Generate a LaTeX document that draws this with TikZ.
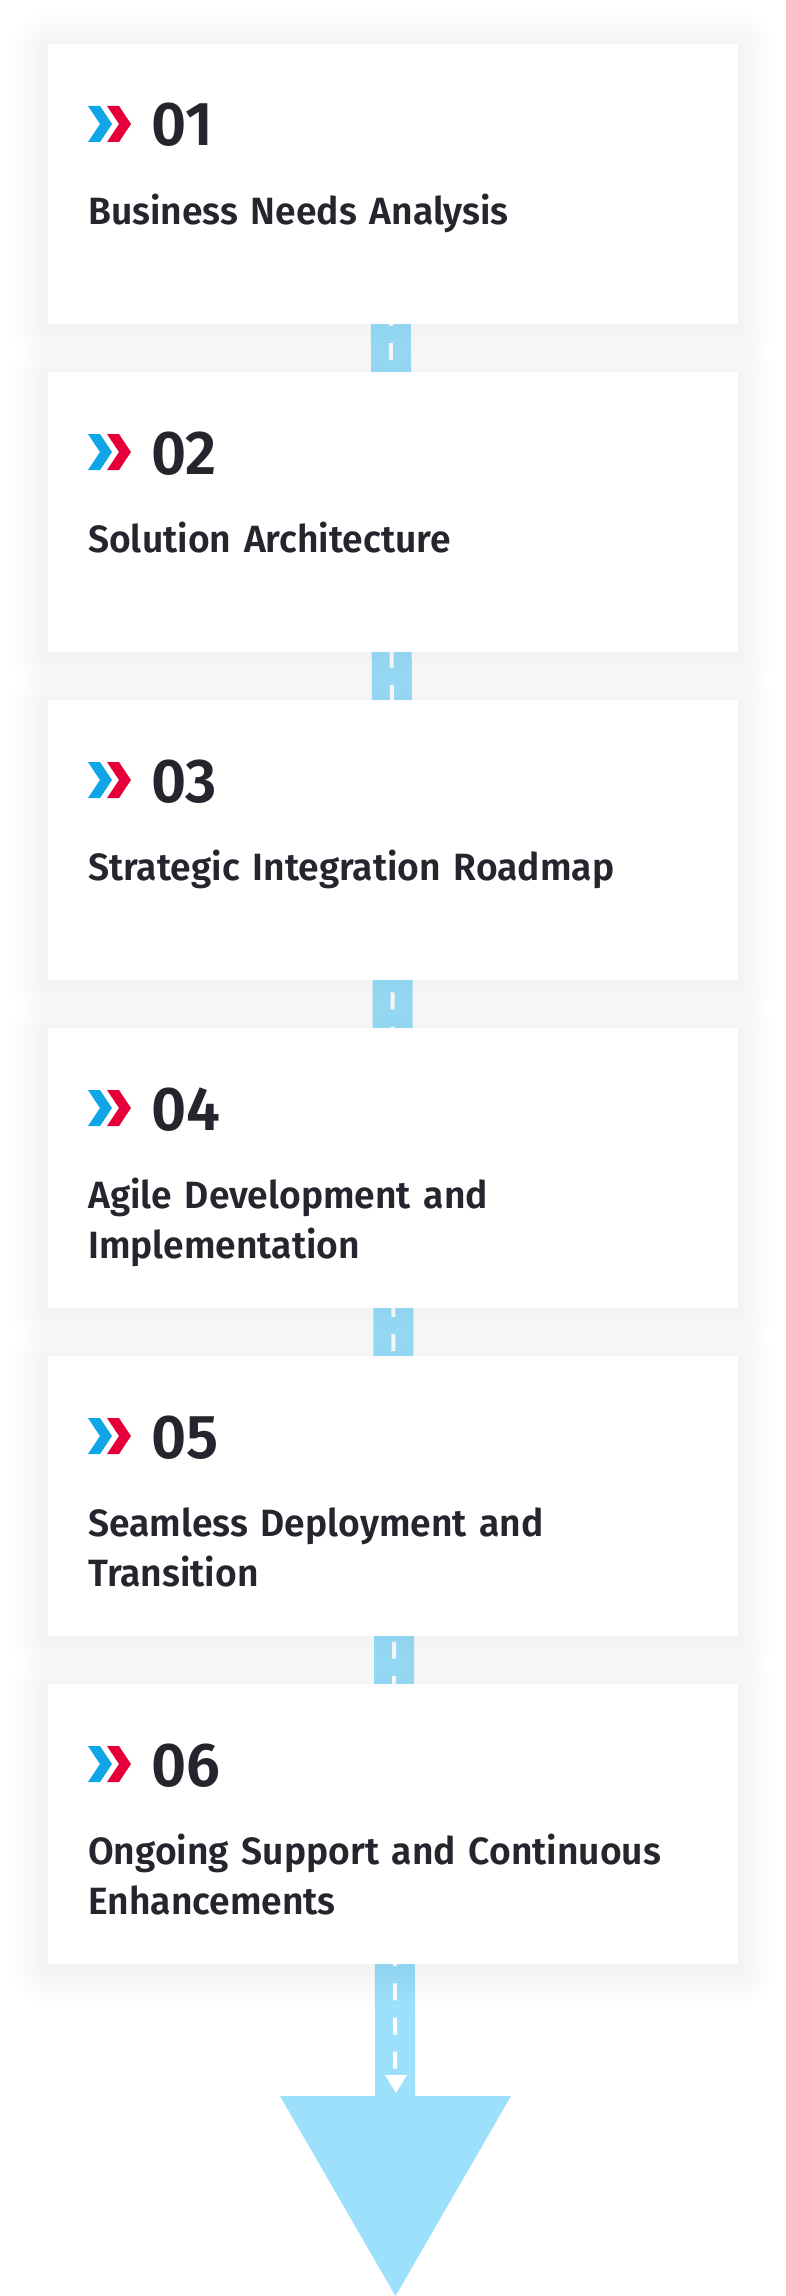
\documentclass[tikz,border=0pt]{standalone}
\usepackage{fontspec}
\setmainfont{Fira Sans}[BoldFont={Fira Sans SemiBold}, BoldFeatures={FakeStretch=0.98}]

\pgfdeclarelayer{roadlayer}
\pgfdeclarelayer{shadelayer}
\pgfsetlayers{roadlayer,shadelayer,main}

\definecolor{stepink}{HTML}{25252D}
\definecolor{chevblue}{HTML}{0EA5E9}
\definecolor{chevred}{HTML}{E5003B}
\definecolor{roadblue}{HTML}{9DE0FC}

\tikzset{chevrons/.pic={
  \fill[chevblue] (0,0) -- (12,0) -- (24,18) -- (12,36) -- (0,36) -- (12,18) -- cycle;
  \fill[chevred] (19,0) -- (31,0) -- (43,18) -- (31,36) -- (19,36) -- (31,18) -- cycle;
}}

\begin{document}
\begin{tikzpicture}[x=1pt, y=-1pt,
  card/.style={fill=white, minimum width=690pt, minimum height=280pt, inner sep=0pt},
  cardshade/.style={black, opacity=0.005},
  stepnum/.style={anchor=base west, inner sep=0pt, text=stepink, font=\fontsize{62}{62}\selectfont\bfseries},
  steptitle/.style={anchor=base west, inner sep=0pt, text=stepink, text width=640pt, align=left,
    font=\fontsize{38}{50}\selectfont\bfseries},
  road/.style={roadblue, line width=40pt},
  roadmark/.style={white, line width=4pt, dash pattern=on 17pt off 17.17pt}]

\useasboundingbox (0,0) rectangle (786,2296);

% cards
\node[card] (card1) at (393,184)  {};
\node[card] (card2) at (393,512)  {};
\node[card] (card3) at (393,840)  {};
\node[card] (card4) at (393,1168) {};
\node[card] (card5) at (393,1496) {};
\node[card] (card6) at (393,1824) {};

\pic at (88,106)  {chevrons};
\pic at (88,434)  {chevrons};
\pic at (88,762)  {chevrons};
\pic at (88,1090) {chevrons};
\pic at (88,1418) {chevrons};
\pic at (88,1746) {chevrons};

\node[stepnum] (n1) at (151,146)  {01};
\node[stepnum] (n2) at (151,474)  {02};
\node[stepnum] (n3) at (151,802)  {03};
\node[stepnum] (n4) at (151,1130) {04};
\node[stepnum] (n5) at (151,1458) {05};
\node[stepnum] (n6) at (151,1786) {06};

\node[steptitle] (t1) at (88,224)  {Business Needs Analysis};
\node[steptitle] (t2) at (88,552)  {Solution Architecture};
\node[steptitle] (t3) at (88,880)  {Strategic Integration Roadmap};
\node[steptitle] (t4) at (88,1208) {Agile Development and\\Implementation};
\node[steptitle] (t5) at (88,1536) {Seamless Deployment and\\Transition};
\node[steptitle] (t6) at (88,1864) {Ongoing Support and Continuous\\Enhancements};

% soft shadows under the cards
\begin{pgfonlayer}{shadelayer}
\foreach \c in {card1,card2,card3,card4,card5,card6}
  \foreach \i in {1,...,12}
    \fill[cardshade, rounded corners=\i*3pt]
      ([shift={(-3*\i,-3*\i+4)}]\c.north west) rectangle ([shift={(3*\i,3*\i+4)}]\c.south east);
\end{pgfonlayer}

% road behind the cards
\begin{pgfonlayer}{roadlayer}
\fill[white] (0,0) rectangle (786,2296);
\coordinate (roadtop) at (390.3,60);
\coordinate (roadend) at (395.2,2096);
\coordinate (marktop) at (390.3,69.8);
\coordinate (markend) at (395.1,2068.7);
\draw[road] (roadtop) -- (roadend);
\draw[roadmark] (marktop) -- (markend);
\fill[white] (385,2075) -- (407,2075) -- (396,2093) -- cycle;
\fill[roadblue] (280,2096) -- (511,2096) -- (395.5,2296) -- cycle;
\end{pgfonlayer}

\end{tikzpicture}
\end{document}
